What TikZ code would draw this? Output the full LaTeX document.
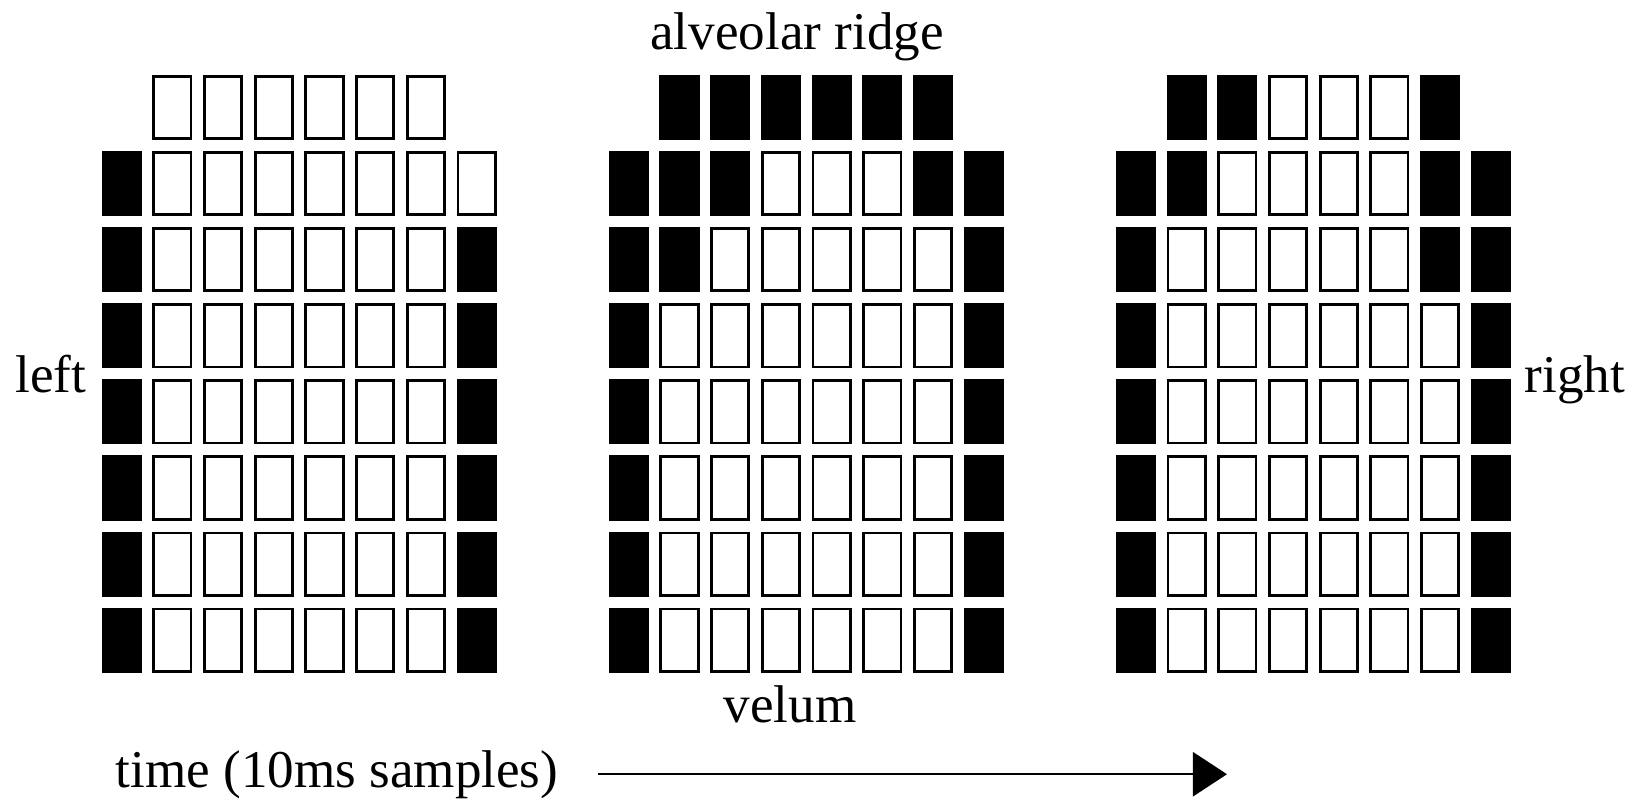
\documentclass[tikz,border=0pt]{standalone}
\usepackage{fontspec}
\setmainfont{Liberation Serif}
\usetikzlibrary{arrows.meta}

\tikzset{
  cell/.style={draw=black, line width=0.8pt, inner sep=0pt,
    minimum width=0.372cm, minimum height=0.622cm},
  cell0/.style={cell, fill=white},
  cell1/.style={cell, fill=black},
  lbl/.style={font=\fontsize{15.1}{18}\selectfont, inner sep=0pt, anchor=base},
  timearrow/.style={line width=0.65pt, -{Triangle[length=0.34cm,width=0.44cm]}},
}
% one row of a sensor grid: x of grid, row, name, pattern (0 open, 1 contact, 2 none)
\newcommand{\gridrow}[4]{%
  \foreach \v [count=\c from 0] in {#4} {%
    \ifnum\v=2 \else
      \node[cell\v] (#3-\c) at ({#1+50.7*\c+20}, {75+76.1*#2+32.5}) {};
    \fi
  }}

\begin{document}
\begin{tikzpicture}[x=0.01cm, y=-0.01cm]
    \useasboundingbox (0,0) rectangle (1641,803);
    % first frame
    \gridrow{101.7}{0}{a0}{2,0,0,0,0,0,0,2}
    \gridrow{101.7}{1}{a1}{1,0,0,0,0,0,0,0}
    \foreach \r in {2,...,7} {\gridrow{101.7}{\r}{a\r}{1,0,0,0,0,0,0,1}}
    % second frame
    \gridrow{608.8}{0}{b0}{2,1,1,1,1,1,1,2}
    \gridrow{608.8}{1}{b1}{1,1,1,0,0,0,1,1}
    \gridrow{608.8}{2}{b2}{1,1,0,0,0,0,0,1}
    \foreach \r in {3,...,7} {\gridrow{608.8}{\r}{b\r}{1,0,0,0,0,0,0,1}}
    % third frame
    \gridrow{1115.9}{0}{c0}{2,1,1,0,0,0,1,2}
    \gridrow{1115.9}{1}{c1}{1,1,0,0,0,0,1,1}
    \gridrow{1115.9}{2}{c2}{1,0,0,0,0,0,1,1}
    \foreach \r in {3,...,7} {\gridrow{1115.9}{\r}{c\r}{1,0,0,0,0,0,0,1}}
    % labels
    \node[lbl] (ridge) at (797,50) {alveolar ridge};
    \node[lbl] (velum) at (790,722) {velum};
    \node[lbl] (leftlbl) at (51,392) {left};
    \node[lbl] (rightlbl) at (1575,392) {right};
    \node[lbl] (timelbl) at (337,787) {time (10ms samples)};
    % time axis
    \coordinate (tend) at (1227,774);
    \draw[timearrow, shorten <=0.39cm] (timelbl.east) -- (timelbl.east -| tend);
\end{tikzpicture}
\end{document}
